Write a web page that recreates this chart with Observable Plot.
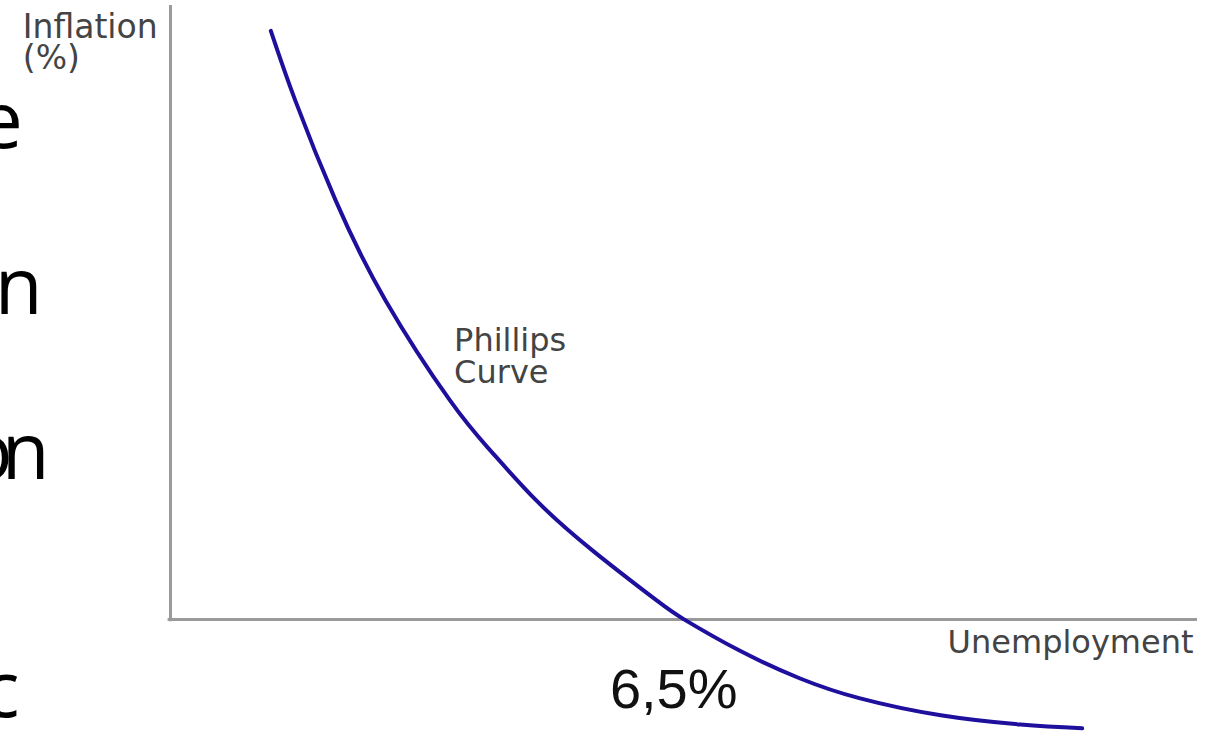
<!DOCTYPE html>
<html>
<head>
<meta charset="utf-8">
<script src="https://cdn.jsdelivr.net/npm/d3@7"></script>
<script src="https://cdn.jsdelivr.net/npm/@observablehq/plot@0.6"></script>
<style>
  html, body { margin: 0; padding: 0; background: #fff; overflow: hidden; }
  #chart svg { display: block; }
</style>
</head>
<body>
<div id="chart"></div>
<script>
// Phillips curve: unemployment (%) vs inflation (%)
const unemployment = [1.27, 1.58, 2.09, 2.72, 3.54, 4.05, 4.63, 5.34, 6.15, 6.50, 7.19, 7.97, 8.73, 9.75, 10.76, 11.54];
const inflation    = [7.67, 6.76, 5.46, 4.16, 2.85, 2.20, 1.55, 0.90, 0.25, 0.00, -0.40, -0.77, -1.03, -1.25, -1.37, -1.42];

// Axis labels and annotations
const axisLabelTexts = ["Inflation\n(%)", "Unemployment"];
const axisLabelX = [-1.87, 12.95];
const axisLabelY = [7.87, -0.145];
const axisLabelAnchor = ["start", "end"];

const curveLabel = "Phillips\nCurve";
const curveLabelX = 3.59;
const curveLabelY = 3.79;

const markerLabel = "6,5%";
const markerX = 6.37;
const markerY = -0.64;

// Cropped slide text fragments at the left edge
const fragmentTexts = ["e", "n", "on", "c"];
const fragmentX = [-1.87, -1.62, -1.67, -1.91];
const fragmentY = [6.87, 4.70, 2.55, -0.55];

const curveData = unemployment.map((u, i) => ({u, v: inflation[i]}));
const axisLabels = axisLabelTexts.map((t, i) => ({t, x: axisLabelX[i], y: axisLabelY[i], a: axisLabelAnchor[i]}));
const fragments = fragmentTexts.map((t, i) => ({t, x: fragmentX[i], y: fragmentY[i]}));

const chart = Plot.plot({
  width: 1209,
  height: 734,
  marginLeft: 170,
  marginRight: 12,
  marginTop: 5,
  marginBottom: 0,
  x: {domain: [0, 13], axis: null},
  y: {domain: [-1.5, 8], axis: null},
  style: {background: "#fff", overflow: "visible"},
  marks: [
    Plot.ruleX([0], {y1: -0.03, y2: 8, stroke: "#9a9a9a", strokeWidth: 3}),
    Plot.ruleY([0], {x1: -0.03, x2: 13, stroke: "#9a9a9a", strokeWidth: 3}),
    Plot.line(curveData, {x: "u", y: "v", curve: "natural", stroke: "#1e0f9c", strokeWidth: 4}),
    Plot.text(axisLabels.filter(d => d.a === "start"), {x: "x", y: "y", text: "t", textAnchor: "start", lineAnchor: "top", lineHeight: 0.95, fontSize: 33, fontFamily: "DejaVu Sans", fill: "#444"}),
    Plot.text(axisLabels.filter(d => d.a === "end"), {x: "x", y: "y", text: "t", textAnchor: "end", lineAnchor: "top", fontSize: 32, fontFamily: "DejaVu Sans", fill: "#444"}),
    Plot.text([curveLabel], {x: curveLabelX, y: curveLabelY, text: d => d, textAnchor: "start", lineAnchor: "top", lineHeight: 1.0, fontSize: 32, fontFamily: "DejaVu Sans", fill: "#444"}),
    Plot.text([markerLabel], {x: markerX, y: markerY, text: d => d, textAnchor: "middle", lineAnchor: "top", fontSize: 56, fontFamily: "Liberation Sans", fill: "#111"}),
    Plot.text(fragments, {x: "x", y: "y", text: "t", textAnchor: "end", lineAnchor: "top", fontSize: 78, fontFamily: "Open Sans", fill: "#000"})
  ]
});
// tighten the cropped "on" fragment so that the edge of its "o" peeks in, as in the slide
d3.select(chart).selectAll("text").filter(function() { return this.textContent === "on"; }).style("letter-spacing", "-11px");
document.getElementById("chart").appendChild(chart);
</script>
</body>
</html>
